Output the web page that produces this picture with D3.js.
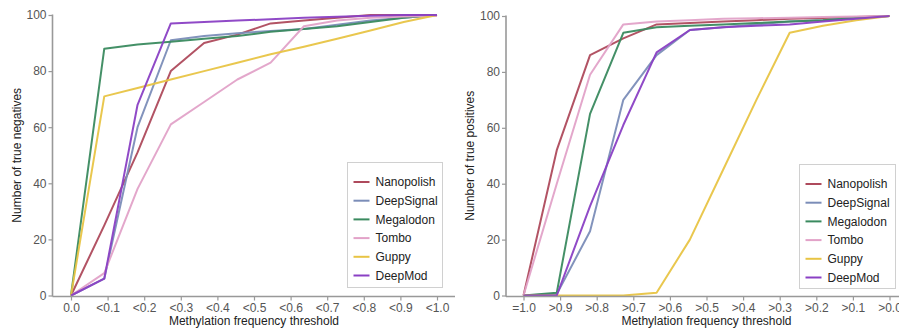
<!DOCTYPE html>
<html><head><meta charset="utf-8">
<script src="https://cdn.jsdelivr.net/npm/d3@7/dist/d3.min.js"></script>
<style>
html,body{margin:0;padding:0;background:#fff;}
svg{display:block;font-family:"Liberation Sans",Arial,sans-serif;}
</style></head>
<body><svg id="c" width="899" height="328"></svg>
<script>
const seriesNames = ["Nanopolish","DeepSignal","Megalodon","Tombo","Guppy","DeepMod"];
const seriesColors = ["#ae4a5c","#7b8db8","#3a8a5f","#e2a2c8","#e8c444","#8a40c4"];

const tnTickLabels = ["0.0","<0.1","<0.2","<0.3","<0.4","<0.5","<0.6","<0.7","<0.8","<0.9","<1.0"];
const tpTickLabels = ["=1.0",">0.9",">0.8",">0.7",">0.6",">0.5",">0.4",">0.3",">0.2",">0.1",">0.0"];
const yTicks = [0,20,40,60,80,100];

// true negatives (12 points each)
const tnNanopolish = [0,25,51,80,90,93,97,98,99,100,100,100];
const tnDeepSignal = [0,6,60,91,92.5,93.5,94.3,95,96.5,98,99,100];
const tnMegalodon  = [0,88,89.5,90.5,91.5,92.5,94,95,96,97.5,99,100];
const tnTombo      = [0,8,38,61,69,77,83,96,98,99,99.5,99.6];
const tnGuppy      = [0,71,74,77,80,83,86,88.7,91.5,94.5,97.5,100];
const tnDeepMod    = [0,6,68,97,97.5,98,98.5,99,99.4,99.7,100,100];

// true positives
const tpNanopolish = [0,52,86,92,97,97.5,98,98.5,99,99.3,99.6,100];
const tpDeepSignal = [0,0.5,23,70,86,95,96,97,98,98.5,99.5,100];
const tpMegalodon  = [0,1,65,94,96,96.5,97,97.5,98,98.5,99.3,100];
const tpTombo      = [0,40,79,97,98,98.5,99,99.2,99.4,99.6,99.8,100];
const tpGuppy      = [0,0,0,0,1,20,45,70,94,96.5,98.5,100];
const tpDeepMod    = [0,0,32,61,87,95,96,96.5,97,98,99,100];

const tnSeries = [tnNanopolish,tnDeepSignal,tnMegalodon,tnTombo,tnGuppy,tnDeepMod];
const tpSeries = [tpNanopolish,tpDeepSignal,tpMegalodon,tpTombo,tpGuppy,tpDeepMod];

const svg = d3.select("#c");

function panel(cfg){
  const g = svg.append("g");
  const x = d3.scaleLinear().domain([0,10]).range([cfg.x0,cfg.x1]);
  const xd = d3.scalePoint().domain(d3.range(cfg.series[0].length)).range([cfg.x0,cfg.x1]);
  const y = d3.scaleLinear().domain([0,100]).range([cfg.yb,cfg.yt]);

  const line = d3.line().x((d,i)=>xd(i)).y(d=>y(d));
  cfg.series.forEach((s,k)=>{
    g.append("path").datum(s).attr("d",line).attr("fill","none")
      .attr("stroke",seriesColors[k]).attr("stroke-width",2).attr("stroke-linejoin","round").attr("stroke-opacity",0.95);
  });

  const ya = g.append("g").attr("transform",`translate(${cfg.ax},0)`)
    .call(d3.axisLeft(y).tickValues(yTicks).tickSize(4).tickPadding(2).tickSizeOuter(0));
  ya.select(".domain").attr("stroke","#999").attr("stroke-width",1.6)
    .attr("d",`M0,${cfg.yt-0.5}V${cfg.yb+1}`);
  ya.selectAll(".tick line").attr("stroke","#999").attr("stroke-width",1.2);
  ya.selectAll(".tick text").attr("fill","#555").attr("font-size",12).attr("font-family","Liberation Sans, Arial, sans-serif");

  const xa = g.append("g").attr("transform",`translate(0,${cfg.yb+1})`)
    .call(d3.axisBottom(x).tickValues(d3.range(11)).tickFormat(i=>cfg.labels[i]).tickSize(4).tickPadding(3).tickSizeOuter(0));
  xa.select(".domain").attr("stroke","#999").attr("stroke-width",1.6)
    .attr("d",`M${cfg.ax},0H${cfg.axEnd}`);
  xa.selectAll(".tick line").attr("stroke","#999").attr("stroke-width",1.2);
  xa.selectAll(".tick text").attr("fill","#555").attr("font-size",12).attr("font-family","Liberation Sans, Arial, sans-serif");

  g.append("text").attr("x",(cfg.x0+cfg.x1)/2).attr("y",325).attr("text-anchor","middle")
    .attr("font-size",12).attr("fill","#222").text("Methylation frequency threshold");
  g.append("text").attr("transform",`translate(${cfg.ytx},${(cfg.yt+cfg.yb)/2}) rotate(-90)`)
    .attr("text-anchor","middle").attr("dy","0.35em").attr("font-size",12).attr("fill","#222").text(cfg.ytitle);

  const lg = g.append("g");
  lg.append("rect").attr("x",cfg.lx).attr("y",cfg.ly).attr("width",cfg.lw).attr("height",cfg.lh)
    .attr("fill","#fff").attr("stroke","#d0d0d0").attr("stroke-width",1);
  seriesNames.forEach((n,k)=>{
    const cy = cfg.ly + 19.5 + k*18.7;
    lg.append("line").attr("x1",cfg.lx+6).attr("x2",cfg.lx+22).attr("y1",cy).attr("y2",cy)
      .attr("stroke",seriesColors[k]).attr("stroke-width",2);
    lg.append("text").attr("x",cfg.lx+28).attr("y",cy).attr("dy","0.35em")
      .attr("font-size",12).attr("fill","#222").text(n);
  });
}

panel({x0:71,x1:437,yt:15,yb:295.5,ax:52.5,axEnd:455,series:tnSeries,labels:tnTickLabels,
  ytitle:"Number of true negatives",ytx:17,lx:347.5,ly:162.5,lw:95,lh:125});
panel({x0:523.5,x1:889.5,yt:16,yb:295.5,ax:506,axEnd:905,series:tpSeries,labels:tpTickLabels,
  ytitle:"Number of true positives",ytx:470,lx:799.5,ly:164.5,lw:96,lh:124});
</script></body></html>
